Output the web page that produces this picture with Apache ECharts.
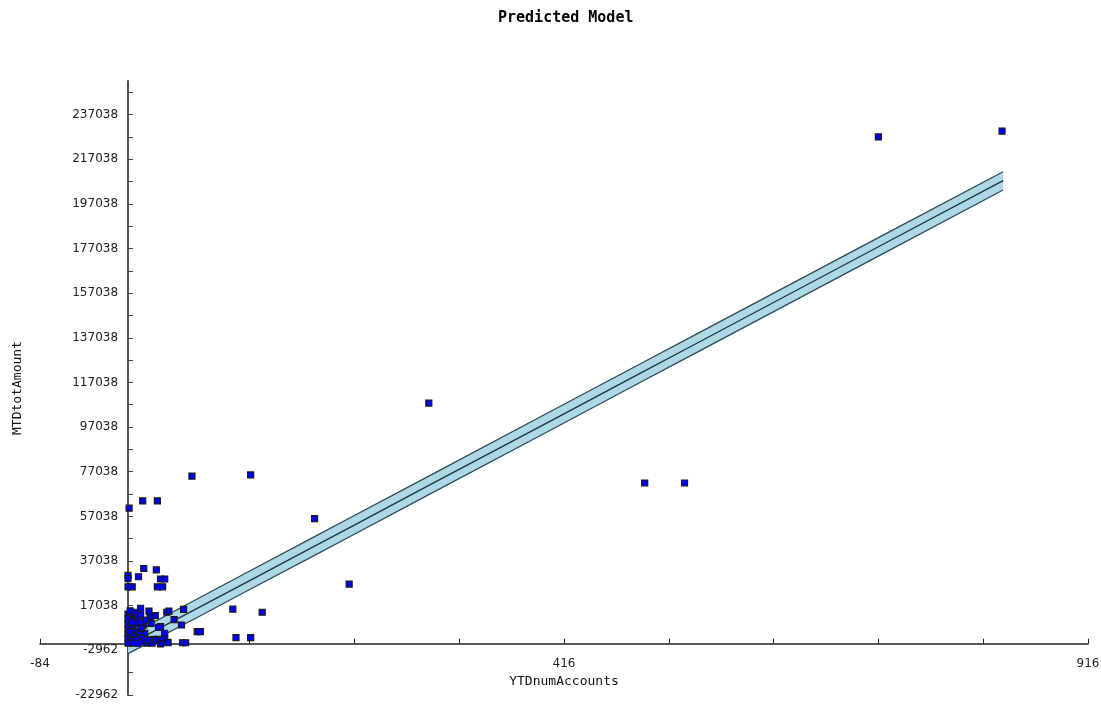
<!DOCTYPE html>
<html>
<head>
<meta charset="utf-8">
<script src="https://cdn.jsdelivr.net/npm/echarts@6/dist/echarts.min.js"></script>
<style>html,body{margin:0;padding:0;background:#fff}#c{width:1101px;height:704px}</style>
</head>
<body>
<div id="c"></div>
<script>
// Scatter observations (YTDnumAccounts, MTDtotAmount)
const scatterX = [716,834,287,493,531,117,61,178,211,100,128,103,117,66,69,
  1,14,28,15,27,0,0,10,31,35,0,4,28,33,
  12,6,20,26,21,37,39,53,44,51,31,15,22,29,35,16,8,25,29,35,38,52,55,31,31,
  0,3,7,0,5,9,0,3,8,12,0,4,0,6,11,0,3,8,12,15,0,5,10,18,21,23,13,17,12,2,4,1,38,26,18];
const scatterY = [227000,229600,107800,72000,72000,75600,75100,56000,26700,15500,14100,2700,2700,5400,5400,
  60700,64000,64000,33700,33100,30600,29200,30000,29000,29000,25500,25500,25500,25500,
  15900,14100,14600,12600,12000,14100,14600,15400,10800,8400,7700,8400,9100,7300,4700,4700,5400,2000,2000,2000,600,450,450,1700,-100,
  13300,12400,13300,11100,10600,11500,8800,7900,8800,9700,6600,5700,4400,3500,4400,2600,1700,1700,2600,1200,300,300,300,300,1700,300,7000,10600,12900,14700,9700,5200,450,1700,1700];

// Predicted model band
const bandX      = [0,     61,    117,   178,   211,   287,   403,    493,    532,    716,    835];
const bandLower  = [-4400, 10500, 24500, 39600, 47800, 66800, 95600,  118100, 127800, 173600, 203200];
const bandCenter = [-500,  14600, 28500, 43700, 51900, 70900, 99700,  122200, 131900, 177800, 207400];
const bandUpper  = [3500,  18800, 32800, 48000, 56200, 75100, 104000, 126400, 136100, 181900, 211400];

// Axis ticks and labels
const xTicks  = [-84,16,116,216,316,416,516,616,716,816,916];
const xLabels = [-84,416,916];
const yTicks  = [-22962,-12962,-2962,7038,17038,27038,37038,47038,57038,67038,77038,87038,97038,107038,117038,127038,137038,147038,157038,167038,177038,187038,197038,207038,217038,227038,237038,247038];
const yLabels = [-22962,-2962,17038,37038,57038,77038,97038,117038,137038,157038,177038,197038,217038,237038];

const GRID = {left:40, right:13, top:81, bottom:9};
const W = 1101, H = 704;

const chart = echarts.init(document.getElementById('c'), null, {renderer:'canvas'});
const axisFont = {fontFamily:'DejaVu Sans', fontSize:12, color:'#222'};
const nameFont = {fontFamily:'DejaVu Sans Mono', fontSize:13, color:'#111'};

chart.setOption({
  animation:false,
  backgroundColor:'#fff',
  title:{text:'Predicted Model', left:493, top:6,
    textStyle:{fontFamily:'DejaVu Sans Mono', fontWeight:'bold', fontSize:15, color:'#000'}},
  grid:Object.assign({containLabel:false, outerBoundsMode:'none'}, GRID),
  xAxis:{type:'value', min:-84, max:916, position:'bottom', offset:0,
    name:'YTDnumAccounts', nameLocation:'middle', nameGap:27, nameTextStyle:nameFont,
    axisLine:{onZero:false, lineStyle:{color:'#222', width:1.5}},
    axisTick:{inside:true, length:5, customValues:xTicks, lineStyle:{color:'#222', width:1}},
    axisLabel:Object.assign({margin:14, customValues:xLabels, formatter:v=>String(Math.round(v))}, axisFont),
    splitLine:{show:false}},
  yAxis:{type:'value', min:-22962, max:252038, position:'left', offset:0,
    name:'MTDtotAmount', nameLocation:'middle', nameGap:104, nameTextStyle:nameFont,
    axisLine:{onZero:false, lineStyle:{color:'#555', width:2}},
    axisTick:{inside:true, length:5, customValues:yTicks, lineStyle:{color:'#444', width:1}},
    axisLabel:Object.assign({margin:10, customValues:yLabels, formatter:v=>String(Math.round(v))}, axisFont),
    splitLine:{show:false}},
  series:[
    {type:'custom', z:2, silent:true,
     data: bandX.map((x,i)=>[x, bandCenter[i]]),
     encode:{x:0, y:1},
     renderItem:function(params, api){
       if (params.dataIndex !== 0) return null;
       const up = bandX.map((x,i)=>api.coord([x, bandUpper[i]]));
       const lo = bandX.map((x,i)=>api.coord([x, bandLower[i]]));
       const ce = bandX.map((x,i)=>api.coord([x, bandCenter[i]]));
       return {type:'group', children:[
         {type:'polygon', shape:{points: up.concat(lo.slice().reverse())}, style:{fill:'#ADD8E6', stroke:null}},
         {type:'polyline', shape:{points: up}, style:{stroke:'#2e4a55', lineWidth:1.3, fill:null}},
         {type:'polyline', shape:{points: lo}, style:{stroke:'#2e4a55', lineWidth:1.3, fill:null}},
         {type:'polyline', shape:{points: ce}, style:{stroke:'#1d3440', lineWidth:1.3, fill:null}}
       ]};
     }},
    {type:'scatter', z:3, symbol:'rect', symbolSize:6,
     itemStyle:{color:'#0000ff', borderColor:'#1a1a1a', borderWidth:1.2, opacity:1},
     data: scatterX.map((x,i)=>[x, scatterY[i]])}
  ]
});

// Move each axis so it crosses the other at zero (position derived from the library's scales)
const origin = chart.convertToPixel({gridIndex:0}, [0, 0]);
chart.setOption({
  xAxis:{offset: -((H - GRID.bottom) - origin[1])},
  yAxis:{offset: -(origin[0] - GRID.left)}
});
</script>
</body>
</html>
